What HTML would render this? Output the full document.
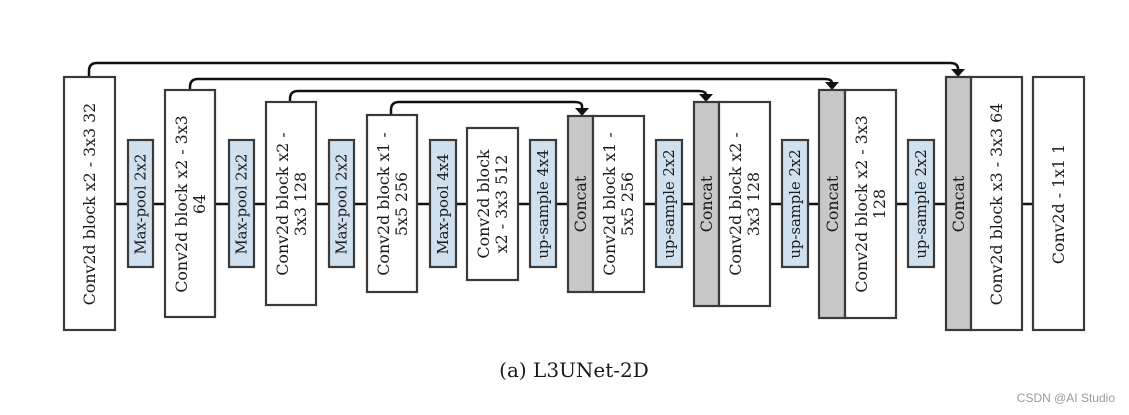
<!DOCTYPE html>
<html><head><meta charset="utf-8"><style>
html,body{margin:0;padding:0;background:#fff;width:1129px;height:415px;overflow:hidden}
svg text{font-family:"DejaVu Serif","Liberation Serif",serif;fill:#1a1a1a}
.b{fill:#fff;stroke:#3a3a3a;stroke-width:2.2}
.c{fill:#c8c8c8;stroke:#3a3a3a;stroke-width:2.2}
.s{fill:#cfe0ef;stroke:#3a3a3a;stroke-width:2.2}
.l{stroke:#111;stroke-width:2.5;fill:none}
.t{font-size:15.8px}
.m{font-size:14.8px}
</style></head><body>
<svg width="1129" height="415" xmlns="http://www.w3.org/2000/svg">
<line class="l" x1="115" y1="204" x2="1033" y2="204"/>
<path class="l" d="M89 77 V71 Q89 63 97 63 H950 Q958 63 958 69 V71"/>
<path class="l" d="M190 90 V87 Q190 79 198 79 H824 Q832 79 832 83 V84"/>
<path class="l" d="M290 102 V99 Q290 91 298 91 H698 Q706 91 706 95 V96"/>
<path class="l" d="M391 115 V110 Q391 102 399 102 H574 Q582 102 582 106 V109"/>
<polygon points="951,69 965,69 958,77" fill="#111"/>
<polygon points="825,82 839,82 832,90" fill="#111"/>
<polygon points="699,94 713,94 706,102" fill="#111"/>
<polygon points="575,108 589,108 582,116" fill="#111"/>
<rect class="b" x="64" y="77" width="51" height="253"/>
<rect class="s" x="128" y="140" width="25" height="127"/>
<rect class="b" x="165" y="90" width="50" height="227"/>
<rect class="s" x="229" y="140" width="25" height="127"/>
<rect class="b" x="266" y="102" width="50" height="203"/>
<rect class="s" x="329" y="140" width="25" height="127"/>
<rect class="b" x="367" y="115" width="50" height="177"/>
<rect class="s" x="430" y="140" width="26" height="127"/>
<rect class="b" x="467" y="128" width="51" height="152"/>
<rect class="s" x="530" y="140" width="26" height="127"/>
<rect class="c" x="568" y="116" width="25" height="176"/>
<rect class="b" x="593" y="116" width="51" height="176"/>
<rect class="s" x="656" y="140" width="26" height="127"/>
<rect class="c" x="694" y="102" width="25" height="204"/>
<rect class="b" x="719" y="102" width="51" height="204"/>
<rect class="s" x="782" y="140" width="26" height="127"/>
<rect class="c" x="819" y="90" width="26" height="228"/>
<rect class="b" x="845" y="90" width="51" height="228"/>
<rect class="s" x="908" y="140" width="26" height="127"/>
<rect class="c" x="946" y="77" width="25" height="253"/>
<rect class="b" x="971" y="77" width="51" height="253"/>
<rect class="b" x="1033" y="77" width="51" height="253"/>
<g text-anchor="middle">
<text class="t" transform="translate(95,204) rotate(-90)">Conv2d block x2 - 3x3 32</text>
<text class="m" transform="translate(145.5,204) rotate(-90)">Max-pool 2x2</text>
<text class="t" transform="translate(187,204) rotate(-90)">Conv2d block x2 - 3x3</text>
<text class="t" transform="translate(205,204) rotate(-90)">64</text>
<text class="m" transform="translate(246.5,204) rotate(-90)">Max-pool 2x2</text>
<text class="t" transform="translate(288,204) rotate(-90)">Conv2d block x2 -</text>
<text class="t" transform="translate(306,204) rotate(-90)">3x3 128</text>
<text class="m" transform="translate(346.5,204) rotate(-90)">Max-pool 2x2</text>
<text class="t" transform="translate(389,204) rotate(-90)">Conv2d block x1 -</text>
<text class="t" transform="translate(407,204) rotate(-90)">5x5 256</text>
<text class="m" transform="translate(448,204) rotate(-90)">Max-pool 4x4</text>
<text class="t" transform="translate(489,204) rotate(-90)">Conv2d block</text>
<text class="t" transform="translate(507,204) rotate(-90)">x2 - 3x3 512</text>
<text class="m" transform="translate(548,204) rotate(-90)">up-sample 4x4</text>
<text class="t" transform="translate(586,204) rotate(-90)">Concat</text>
<text class="t" transform="translate(615,204) rotate(-90)">Conv2d block x1 -</text>
<text class="t" transform="translate(633,204) rotate(-90)">5x5 256</text>
<text class="m" transform="translate(674,204) rotate(-90)">up-sample 2x2</text>
<text class="t" transform="translate(712,204) rotate(-90)">Concat</text>
<text class="t" transform="translate(741,204) rotate(-90)">Conv2d block x2 -</text>
<text class="t" transform="translate(759,204) rotate(-90)">3x3 128</text>
<text class="m" transform="translate(800,204) rotate(-90)">up-sample 2x2</text>
<text class="t" transform="translate(838,204) rotate(-90)">Concat</text>
<text class="t" transform="translate(867,204) rotate(-90)">Conv2d block x2 - 3x3</text>
<text class="t" transform="translate(885,204) rotate(-90)">128</text>
<text class="m" transform="translate(926,204) rotate(-90)">up-sample 2x2</text>
<text class="t" transform="translate(964,204) rotate(-90)">Concat</text>
<text class="t" transform="translate(1002,204) rotate(-90)">Conv2d block x3 - 3x3 64</text>
<text class="t" transform="translate(1064,204) rotate(-90)">Conv2d - 1x1 1</text>
<text x="574" y="377" style="font-size:20px;font-family:'DejaVu Serif','Liberation Serif',serif">(a) L3UNet-2D</text>
</g>
<text x="1115" y="402" text-anchor="end" style="font-size:12px;font-family:'Liberation Sans',sans-serif;fill:#999">CSDN @AI Studio</text>
</svg>
</body></html>
